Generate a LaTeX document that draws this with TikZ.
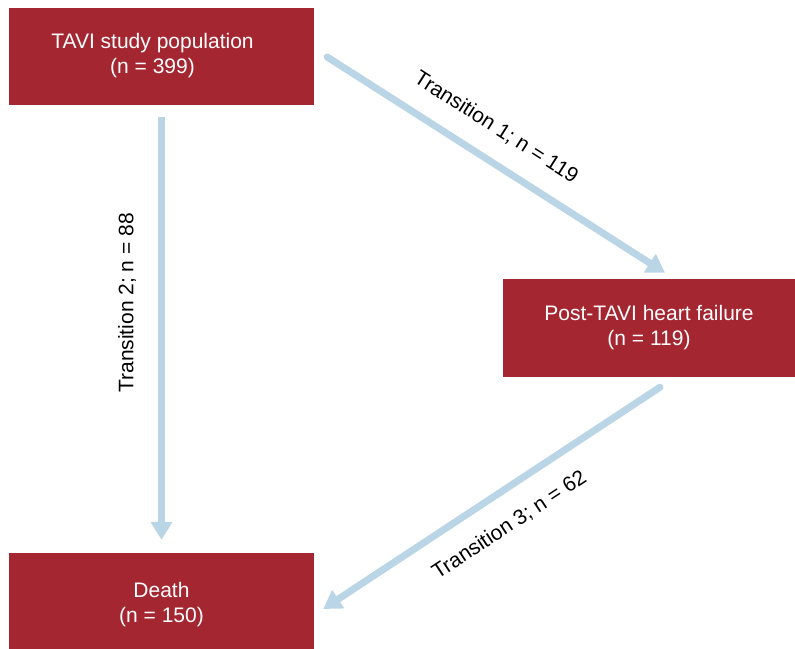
\documentclass[tikz,border=0pt]{standalone}
\usepackage{fontspec}
\setmainfont{Liberation Sans}
\usetikzlibrary{arrows.meta, positioning}
\definecolor{boxred}{HTML}{A42631}
\definecolor{flowblue}{HTML}{B9D5E6}
\tikzset{
  stage box/.style={
    rectangle,
    fill=boxred,
    text=white,
    align=center,
    inner sep=0pt,
    minimum width=305pt,
    minimum height=97pt,
    font=\fontsize{21}{25}\selectfont
  },
  flow arrow/.style={
    -{Triangle[length=18pt, width=21pt]},
    line width=7pt,
    color=flowblue,
    line cap=round
  },
  flow label/.style={
    text=black,
    inner sep=0pt,
    font=\fontsize{21}{25}\selectfont
  }
}

\begin{document}
\begin{tikzpicture}[x=1pt, y=-1pt]
    \clip (0,0) rectangle (795,648);

    % --- stages ---
    \node[stage box] (tavi) at (161.5, 56)
      {TAVI study population\hspace*{18pt}\\(n = 399)\hspace*{18pt}};
    \node[stage box, minimum width=292pt, minimum height=98pt] (hf) at (649, 328)
      {Post-TAVI heart failure\\(n = 119)};
    \node[stage box, minimum height=103pt] (death) at (161.5, 604.5) {Death\\(n = 150)};

    % --- transitions ---
    % 1: study population -> heart failure
    \draw[flow arrow] ([xshift=13pt, yshift=-1pt]tavi.east) -- ([xshift=16pt, yshift=6pt]hf.north)
      node[flow label, pos=0.45, sloped, above=19pt] {Transition 1; n = 119};

    % 2: study population -> death
    \draw[flow arrow, line cap=butt] ([yshift=-12pt]tavi.south) -- ([yshift=13pt]death.north)
      node[flow label, pos=0.44, xshift=-22pt, rotate=90, anchor=south] {Transition 2; n = 88};

    % 3: heart failure -> death
    \draw[flow arrow] ([xshift=11pt, yshift=-10pt]hf.south) -- ([xshift=9pt, yshift=-4.5pt]death.east)
      node[flow label, pos=0.5, sloped, below=20pt] {Transition 3; n = 62};

\end{tikzpicture}
\end{document}
